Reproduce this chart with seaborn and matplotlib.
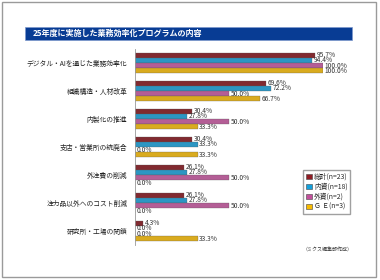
import matplotlib
matplotlib.use("Agg")
import matplotlib.pyplot as plt
from matplotlib.patches import Rectangle, Patch
import seaborn as sns
import pandas as pd
import numpy as np

categories = [
    "デジタル・AIを通じた業務効率化",
    "組織構造・人材改革",
    "内製化の推進",
    "支店・営業所の統廃合",
    "外注費の削減",
    "注力品以外へのコスト削減",
    "研究所・工場の閉鎖",
]
groups = ["総計(n=23)", "内資(n=18)", "外資(n=2)", "Ｇ Ｅ(n=3)"]
total = [95.7, 69.6, 30.4, 30.4, 26.1, 26.1, 4.3]
domestic = [94.4, 72.2, 27.8, 33.3, 27.8, 27.8, 0.0]
foreign = [100.0, 50.0, 50.0, 0.0, 50.0, 50.0, 0.0]
ge = [100.0, 66.7, 33.3, 33.3, 0.0, 0.0, 33.3]
colors = ["#901b23", "#13a0dc", "#c2509b", "#f8ba00"]

title = "25年度に実施した業務効率化プログラムの内容"
note = "（ミクス編集部作成）"

df = pd.DataFrame({"category": categories, groups[0]: total, groups[1]: domestic,
                   groups[2]: foreign, groups[3]: ge})
long_df = df.melt("category", var_name="group", value_name="value")

sns.set_theme(style="white")
plt.rcParams["font.family"] = ["Noto Sans CJK JP", "DejaVu Sans"]

fig = plt.figure(figsize=(3.8, 2.8), dpi=100)
fig.patch.set_facecolor("white")

# outer frame and title bar
fig.patches.append(Rectangle((2 / 380, 3 / 280), 374 / 380, 275 / 280, transform=fig.transFigure,
                             facecolor="none", edgecolor="#9a9a9a", lw=1.0))
fig.patches.append(Rectangle((25 / 380, 240 / 280), 327 / 380, 13 / 280, transform=fig.transFigure,
                             facecolor="#083c94", edgecolor="#7d98cc", lw=0.5))
fig.text(33 / 380, 246.5 / 280, title, color="white", fontsize=5.8, fontweight="bold",
         va="center", ha="left")

ax = fig.add_axes([135 / 380, 35 / 280, 188 / 380, 196 / 280])
sns.barplot(data=long_df, y="category", x="value", hue="group", palette=colors,
            orient="h", width=0.74, ax=ax, legend=False, edgecolor="#555555", linewidth=0.2)

for cont in ax.containers:
    ax.bar_label(cont, fmt="%.1f%%", padding=1.2, fontsize=4.8, color="#333333")

ax.set_xlim(0, 100)
ax.set_ylim(6.5, -0.5)
ax.set_xlabel("")
ax.set_ylabel("")
ax.set_xticks([])
ax.tick_params(axis="y", which="major", length=0, labelsize=4.9, pad=5.5, colors="#222222")
ax.set_yticks(np.arange(-0.5, 7, 1), minor=True)
ax.tick_params(axis="y", which="minor", length=2, width=0.5, color="#999999")
for side in ["top", "right", "bottom"]:
    ax.spines[side].set_visible(False)
ax.spines["left"].set_color("#999999")
ax.spines["left"].set_linewidth(0.6)

handles = [Patch(facecolor=c, edgecolor="#444444", linewidth=0.4) for c in colors]
fig.legend(handles, groups, loc="upper left", bbox_to_anchor=(303 / 380, 110 / 280),
           fontsize=4.9, frameon=True, fancybox=False, edgecolor="#888888",
           handlelength=0.9, handleheight=0.9, handletextpad=0.3, labelspacing=0.3,
           borderpad=0.4, borderaxespad=0)

fig.text(352 / 380, 30 / 280, note, fontsize=3.6, ha="right", va="center", color="#333333")

fig.savefig("out.png", dpi=100)
